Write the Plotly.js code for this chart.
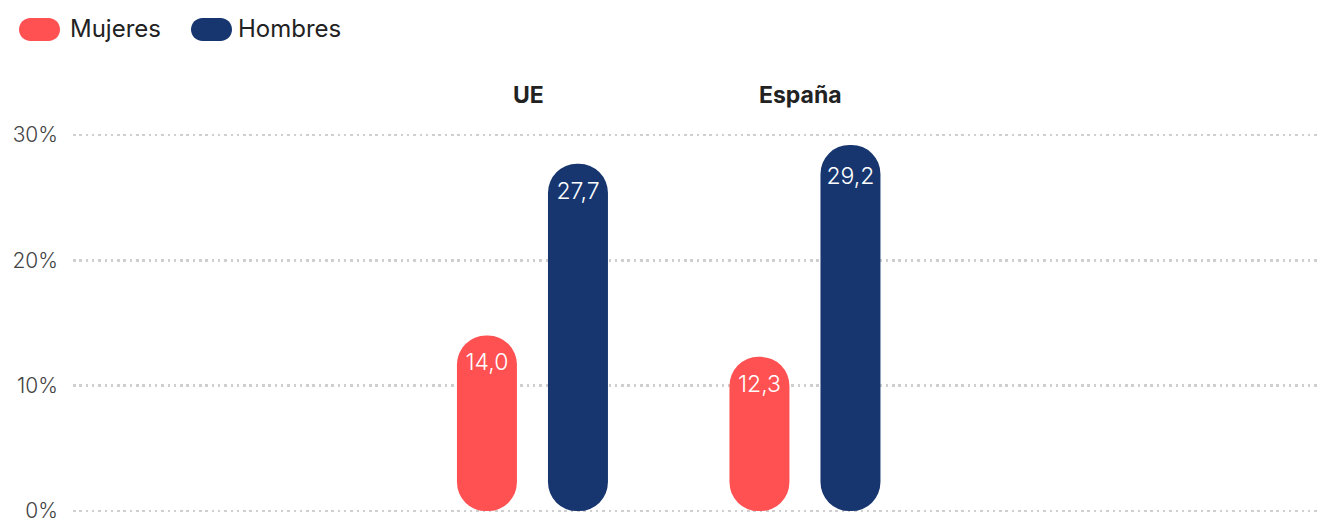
<!DOCTYPE html>
<html>
<head>
<meta charset="utf-8">
<script src="https://cdn.plot.ly/plotly-3.0.1.min.js"></script>
<style>html,body{margin:0;padding:0;background:#fff;}#chart{width:1323px;height:523px;}</style>
</head>
<body>
<div id="chart"></div>
<script>
// ---- data ----
const categories = ['UE', 'España'];
const seriesNames = ['Mujeres', 'Hombres'];
const mujeres = [14.0, 12.3];
const hombres = [27.7, 29.2];
const yTickVals = [0, 10, 20, 30];

// ---- style ----
const colors = {Mujeres: '#FF5052', Hombres: '#17366F'};
const FONT = 'Inter, "Open Sans", sans-serif';
const W = 1323, H = 523;
const M = {l: 73, r: 3, t: 133, b: 10};
const plotW = W - M.l - M.r, plotH = H - M.t - M.b;
const pxX = px => (px - M.l) / plotW;
const pxY = py => 1 - (py - M.t) / plotH;

const fmt = v => v.toFixed(1).replace('.', ',');

function seriesTrace(name, vals) {
  return {
    type: 'bar', x: categories, y: vals, base: vals.map(() => 0), name: name,
    marker: {color: colors[name], cornerradius: '50%', line: {width: 0}},
    hoverinfo: 'skip', showlegend: false,
    text: vals.map(fmt), textposition: 'inside', insidetextanchor: 'end',
    textangle: 0, constraintext: 'none',
    textfont: {family: FONT, size: 23, color: '#ffffff', weight: 300}
  };
}

const traces = [seriesTrace('Mujeres', mujeres), seriesTrace('Hombres', hombres)];

function pill(cxPx, cyPx, w, h, color) {
  const r = h / 2, s = w / 2 - r, k = 0.5523 * r;
  const path = `M ${-s} ${-r} L ${s} ${-r} C ${s + k} ${-r} ${s + r} ${-k} ${s + r} 0 C ${s + r} ${k} ${s + k} ${r} ${s} ${r} L ${-s} ${r} C ${-s - k} ${r} ${-s - r} ${k} ${-s - r} 0 C ${-s - r} ${-k} ${-s - k} ${-r} ${-s} ${-r} Z`;
  return {type: 'path', xref: 'paper', yref: 'paper', xsizemode: 'pixel', ysizemode: 'pixel',
    xanchor: pxX(cxPx), yanchor: pxY(cyPx), path: path, fillcolor: color, line: {width: 0}};
}

const legendX = [{pill: 39.5, text: 68}, {pill: 211.5, text: 236}];
const shapes = seriesNames.map((n, i) => pill(legendX[i].pill, 29.5, 41, 23, colors[n]));
const annotations = seriesNames.map((n, i) => ({
  xref: 'paper', yref: 'paper', x: pxX(legendX[i].text), y: pxY(28.5),
  xanchor: 'left', yanchor: 'middle', showarrow: false, text: n,
  font: {family: FONT, size: 24, color: '#222222'}
})).concat(categories.map(c => ({
  xref: 'x', yref: 'paper', x: c, y: pxY(95), xshift: -4,
  xanchor: 'center', yanchor: 'middle', showarrow: false, text: c,
  font: {family: FONT, size: 23, color: '#222222', weight: 700}
})));

const layout = {
  width: W, height: H, margin: M,
  paper_bgcolor: '#ffffff', plot_bgcolor: '#ffffff',
  showlegend: false,
  barmode: 'group', bargap: 0.332, bargroupgap: 0.341,
  font: {family: FONT, color: '#444'},
  xaxis: {type: 'category', range: [-1.686, 2.890], showgrid: false, zeroline: false,
    showticklabels: false, ticks: '', showline: false, fixedrange: true},
  yaxis: {range: [-0.15, 30.15], tickmode: 'array', tickvals: yTickVals,
    ticktext: yTickVals.map(v => v + '%'), ticklabeloverflow: 'allow',
    showgrid: true, gridcolor: '#cfcfcf', gridwidth: 2.5, griddash: '2.5px,3.8px',
    zeroline: false, showline: false, ticks: '', ticklabelstandoff: 14,
    tickfont: {family: FONT, size: 21, color: '#444444', weight: 300}, fixedrange: true},
  shapes: shapes, annotations: annotations
};

Plotly.newPlot('chart', traces, layout, {displayModeBar: false, staticPlot: true});
</script>
</body>
</html>
